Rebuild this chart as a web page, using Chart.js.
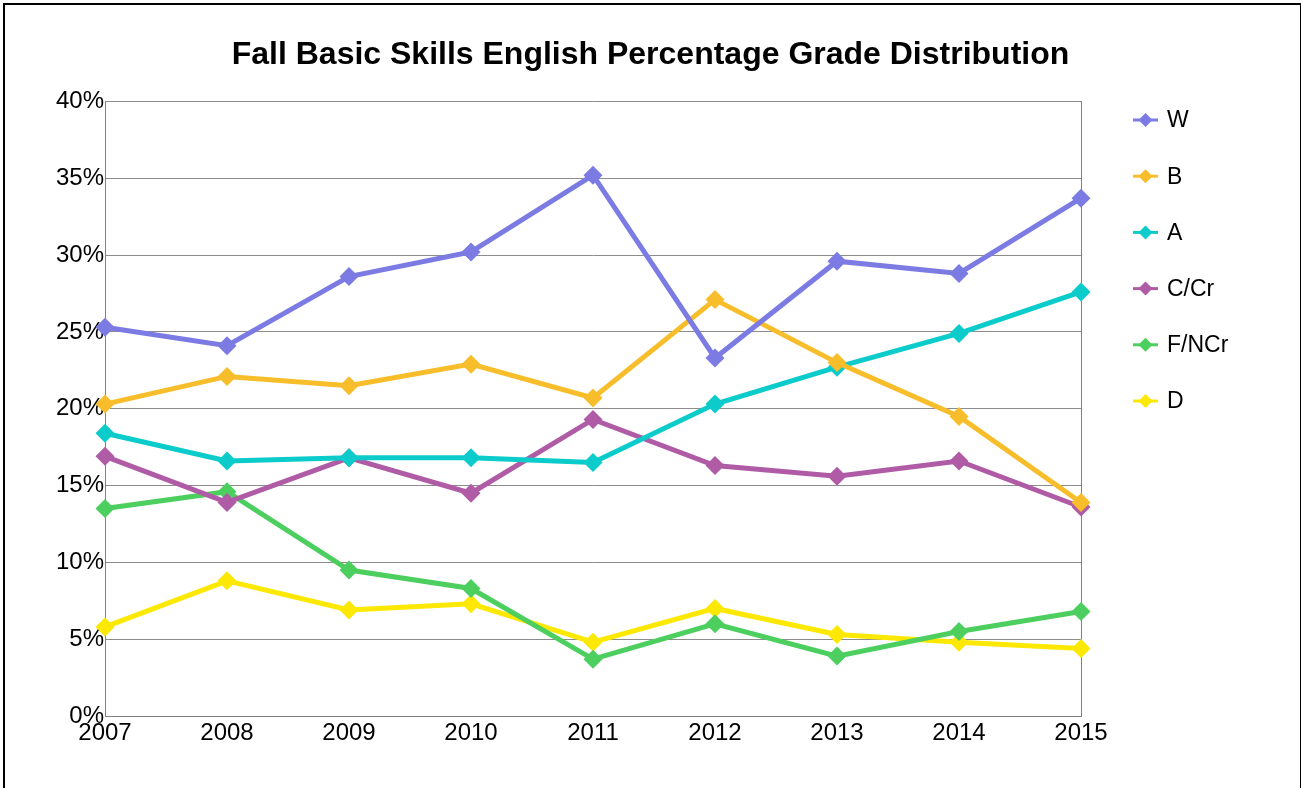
<!DOCTYPE html>
<html>
<head>
<meta charset="utf-8">
<script src="https://cdn.jsdelivr.net/npm/chart.js@4.4.1/dist/chart.umd.min.js"></script>
<style>
  html, body { margin: 0; padding: 0; overflow: hidden; background: #fff; }
  #frame { position: absolute; left: 3px; top: 3px; width: 1295px; height: 820px; border: 2px solid #000; }
  #wrap { position: absolute; left: 0; top: 0; width: 1301px; height: 788px; }
</style>
</head>
<body>
<div id="frame"></div>
<div id="wrap"><canvas id="chart"></canvas></div>
<script>
const years = ['2007', '2008', '2009', '2010', '2011', '2012', '2013', '2014', '2015'];
const seriesNames = ['W', 'B', 'A', 'C/Cr', 'F/NCr', 'D'];
const seriesColors = ['#7b7be3', '#f8bd2b', '#0ccbcb', '#b05ba5', '#4ccf5e', '#fce800'];

const wVals = [25.3, 24.1, 28.6, 30.2, 35.2, 23.3, 29.6, 28.8, 33.7];
const bVals = [20.3, 22.1, 21.5, 22.9, 20.7, 27.1, 23.0, 19.5, 13.9];
const aVals = [18.4, 16.6, 16.8, 16.8, 16.5, 20.3, 22.7, 24.9, 27.6];
const cVals = [16.9, 13.9, 16.8, 14.5, 19.3, 16.3, 15.6, 16.6, 13.6];
const fVals = [13.5, 14.6, 9.5, 8.3, 3.7, 6.0, 3.9, 5.5, 6.8];
const dVals = [5.8, 8.8, 6.9, 7.3, 4.8, 7.0, 5.3, 4.8, 4.4];
const yTicks = [0, 5, 10, 15, 20, 25, 30, 35, 40];

const allVals = [wVals, bVals, aVals, cVals, fVals, dVals];
const FONT = 'Liberation Sans, Arial, sans-serif';

// line legend on the right
const sideLegend = {
  id: 'sideLegend',
  afterDraw(chart) {
    const ctx = chart.ctx;
    ctx.save();
    ctx.font = '23px ' + FONT;
    ctx.textBaseline = 'middle';
    chart.data.datasets.forEach((ds, i) => {
      const y = 120 + i * 56.2;
      ctx.strokeStyle = ds.borderColor;
      ctx.lineWidth = 3;
      ctx.beginPath();
      ctx.moveTo(1133, y);
      ctx.lineTo(1158, y);
      ctx.stroke();
      ctx.fillStyle = ds.borderColor;
      ctx.beginPath();
      ctx.moveTo(1145.5, y - 7);
      ctx.lineTo(1152.5, y);
      ctx.lineTo(1145.5, y + 7);
      ctx.lineTo(1138.5, y);
      ctx.closePath();
      ctx.fill();
      ctx.fillStyle = '#000';
      ctx.fillText(ds.label, 1167, y + 1);
    });
    ctx.restore();
  }
};

const datasets = seriesNames.map((name, i) => ({
  label: name,
  data: allVals[i],
  borderColor: seriesColors[i],
  backgroundColor: seriesColors[i],
  borderWidth: 5,
  pointStyle: 'rectRot',
  pointRadius: 9.5,
  pointHoverRadius: 9.5,
  pointBorderWidth: 0,
  tension: 0,
  clip: false
}));

new Chart(document.getElementById('chart'), {
  type: 'line',
  data: { labels: years, datasets: datasets },
  plugins: [sideLegend],
  options: {
    responsive: true,
    maintainAspectRatio: false,
    animation: false,
    layout: { padding: 0 },
    plugins: {
      legend: { display: false },
      tooltip: { enabled: false },
      title: {
        display: true,
        text: 'Fall Basic Skills English Percentage Grade Distribution',
        color: '#000',
        font: { family: FONT, size: 32, weight: 'bold', lineHeight: 1.2 },
        padding: { top: 36, bottom: 27 }
      }
    },
    scales: {
      x: {
        offset: false,
        grid: { display: false, drawTicks: false },
        border: { display: true, color: '#808080', width: 1 },
        ticks: { color: '#000', font: { family: FONT, size: 24 }, padding: 3, maxRotation: 0, autoSkip: false },
        afterFit(s) { s.height = 72; }
      },
      y: {
        min: 0,
        max: 40,
        afterBuildTicks(s) { s.ticks = yTicks.map(v => ({ value: v })); },
        grid: { color: '#8c8c8c', lineWidth: 1, drawTicks: false },
        border: { display: true, color: '#808080', width: 1 },
        ticks: { color: '#000', font: { family: FONT, size: 24 }, padding: 1, callback: v => v + '%' },
        afterFit(s) { s.width = 105; }
      },
      // empty right axis: keeps room for the legend and draws the right edge of the plot
      side: {
        position: 'right',
        min: 0,
        max: 40,
        grid: { display: false, drawTicks: false },
        border: { display: true, color: '#808080', width: 1 },
        ticks: { display: false },
        afterFit(s) { s.width = 220; }
      }
    }
  }
});
</script>
</body>
</html>
